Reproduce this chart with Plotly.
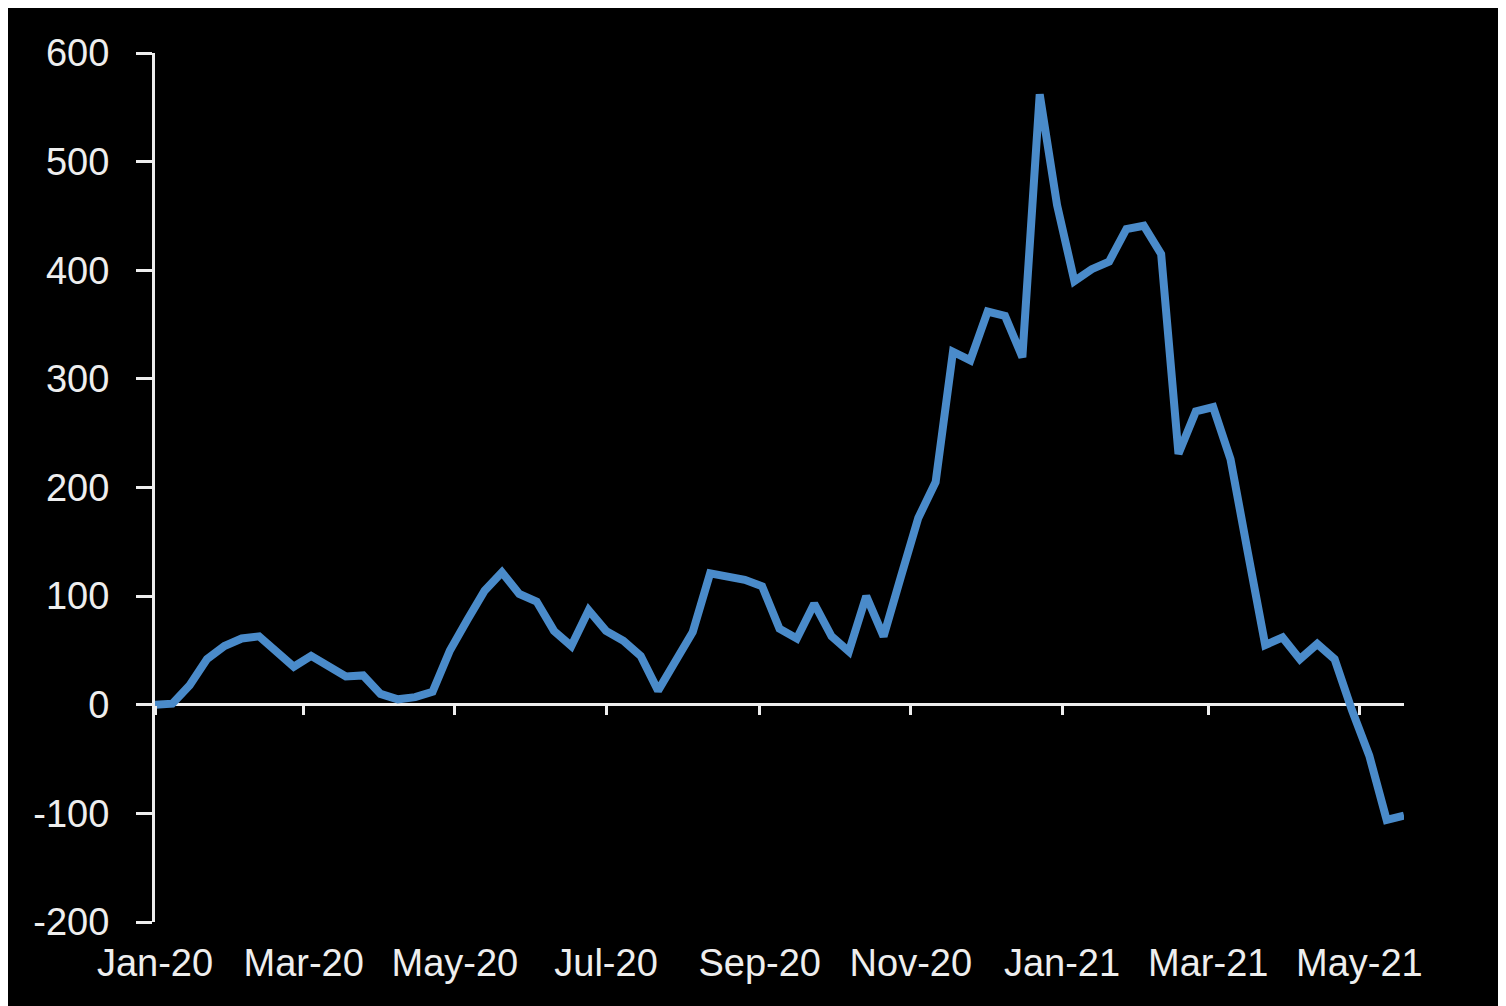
import pandas as pd
import plotly.graph_objects as go

# ---- data ----
start_date = "2020-01-01"
values = [0, 1, 18, 42, 54, 61, 63, 49, 35, 45,
          35, 26, 27, 10, 5, 7, 12, 50, 78, 105,
          122, 102, 95, 68, 54, 87, 68, 59, 45, 13,
          40, 67, 121, 118, 115, 109, 70, 61, 93, 63,
          49, 100, 63, 118, 172, 205, 325, 317, 362, 358,
          320, 562, 460, 390, 401, 408, 438, 441, 415, 231,
          270, 274, 226, 140, 55, 62, 42, 56, 42, -5,
          -47, -106, -102]
dates = pd.date_range(start_date, periods=len(values), freq="7D")

tick_dates = ["2020-01-01", "2020-03-01", "2020-05-01", "2020-07-01", "2020-09-01",
              "2020-11-01", "2021-01-01", "2021-03-01", "2021-05-01"]
tick_labels = ["Jan-20", "Mar-20", "May-20", "Jul-20", "Sep-20",
               "Nov-20", "Jan-21", "Mar-21", "May-21"]
y_ticks = [-200, -100, 0, 100, 200, 300, 400, 500, 600]
y_labels = ["-200", "-100", "0", "100", "200", "300", "400", "500", "600"]

# ---- layout geometry (page body adds an 8px white margin top/left) ----
W, H = 1498, 998
ML, MR, MT, MB = 147, 102, 45, 84

line_color = "#4a8bca"
fg = "#eeeeee"
font = dict(family="Liberation Sans, Arial, sans-serif", size=38, color=fg)

x_range = [dates[0], dates[-1]]
y_range = [y_ticks[0], y_ticks[-1]]

fig = go.Figure()
fig.add_trace(go.Scatter(x=dates, y=values, mode="lines",
                         line=dict(color=line_color, width=8),
                         showlegend=False, hoverinfo="x+y"))

# invisible trace to bind the tick-mark axis at y=0
fig.add_trace(go.Scatter(x=[dates[0]], y=[0], xaxis="x2", yaxis="y",
                         mode="markers", marker=dict(opacity=0),
                         showlegend=False, hoverinfo="skip"))

fig.update_layout(
    width=W, height=H,
    margin=dict(l=ML, r=MR, t=MT, b=MB, pad=0),
    paper_bgcolor="black",
    plot_bgcolor="black",
    font=font,
    showlegend=False,
    xaxis=dict(
        type="date", range=x_range,
        tickvals=tick_dates, ticktext=tick_labels,
        showgrid=False, zeroline=False, showline=False,
        ticks="", ticklabelstandoff=15,
        tickfont=font,
    ),
    xaxis2=dict(
        type="date", range=x_range, overlaying="x", anchor="free",
        position=(0 - y_range[0]) / (y_range[1] - y_range[0]),
        tickvals=tick_dates, showticklabels=False,
        ticks="outside", ticklen=9, tickwidth=3, tickcolor=fg,
        showgrid=False, zeroline=False, showline=False,
    ),
    yaxis=dict(
        range=y_range, tickvals=y_ticks, ticktext=y_labels,
        showgrid=False,
        zeroline=True, zerolinecolor=fg, zerolinewidth=3,
        showline=True, linecolor=fg, linewidth=3,
        ticks="outside", ticklen=16, tickwidth=3, tickcolor=fg,
        ticklabelstandoff=19,
        tickfont=font,
    ),
)

fig.write_html("out.html")
